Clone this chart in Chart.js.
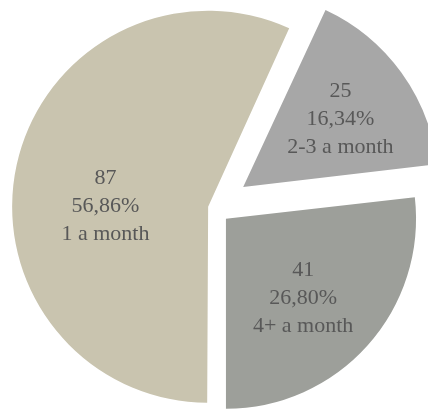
<!DOCTYPE html>
<html>
<head>
<meta charset="utf-8">
<script src="https://cdn.jsdelivr.net/npm/chart.js@4.4.0/dist/chart.umd.min.js"></script>
<style>
    html, body { margin: 0; padding: 0; background: #ffffff; }
    #wrap { width: 428px; height: 414px; }
</style>
</head>
<body>
<div id="wrap"><canvas id="myChart" width="428" height="414"></canvas></div>
<script>
// visits per month, number of answers
const categories = ['1 a month', '2-3 a month', '4+ a month'];
const counts = [87, 25, 41];

// look of the slices
const sliceColors = ['#c9c4af', '#a7a7a7', '#9d9f9a'];
const sliceOffsets = [24, 144, 64];   // chart.js draws offset / 4 px
const labelNudge = [[5, 23], [8, -3], [-5, 6]];

function percentText(i){
    const total = counts.reduce((a, b) => a + b, 0);
    return (counts[i] / total * 100).toFixed(2).replace('.', ',') + '%';
}

const sliceLabels = {
    id: 'sliceLabels',
    afterDatasetsDraw(chart){
        const ctx = chart.ctx;
        const meta = chart.getDatasetMeta(0);
        ctx.save();
        ctx.font = '22px "Liberation Serif"';
        ctx.fillStyle = '#585858';
        ctx.textAlign = 'center';
        ctx.textBaseline = 'middle';
        meta.data.forEach((arc, i) => {
            const p = arc.getProps(['x', 'y', 'startAngle', 'endAngle', 'outerRadius'], true);
            const mid = (p.startAngle + p.endAngle) / 2;
            const r = sliceOffsets[i] / 4 + p.outerRadius * 0.58;
            const x = p.x + Math.cos(mid) * r + labelNudge[i][0];
            const y = p.y + Math.sin(mid) * r + labelNudge[i][1];
            const lines = [String(counts[i]), percentText(i), categories[i]];
            lines.forEach((t, k) => ctx.fillText(t, x, y + (k - 1) * 28));
        });
        ctx.restore();
    }
};

function getChart(){
    const ctx = document.getElementById('myChart');

    new Chart(ctx, {
        type: 'pie',
        data: {
            labels: categories,
            datasets: [{
                data: counts,
                backgroundColor: sliceColors,
                borderWidth: 0,
                offset: sliceOffsets,
                hoverOffset: 0,
                clip: false
            }]
        },
        options: {
            responsive: false,
            animation: false,
            events: [],
            rotation: 180,
            radius: 190,
            layout: { padding: { top: 2 } },
            plugins: {
                legend: { display: false },
                tooltip: { enabled: false }
            }
        },
        plugins: [sliceLabels]
    });
}

document.addEventListener('DOMContentLoaded', () => {
    getChart();
});
</script>
</body>
</html>
